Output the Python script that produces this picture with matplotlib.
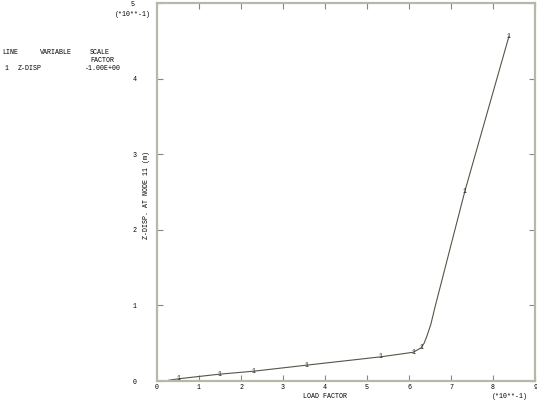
import matplotlib
matplotlib.use("Agg")
import matplotlib.pyplot as plt

# data (units of 1e-1)
load_factor = [0.28, 0.52, 1.48, 2.31, 3.57, 5.33, 6.10, 6.29, 6.36, 6.43, 6.52, 6.62, 7.33, 8.38]
z_disp = [0.01, 0.03, 0.09, 0.13, 0.21, 0.32, 0.38, 0.44, 0.50, 0.60, 0.75, 0.98, 2.51, 4.56]
marker_x = [0.52, 1.48, 2.31, 3.57, 5.33, 6.10, 6.29, 7.33, 8.38]
marker_y = [0.03, 0.09, 0.13, 0.21, 0.32, 0.38, 0.44, 2.51, 4.56]
x_ticks = [0, 1, 2, 3, 4, 5, 6, 7, 8, 9]
y_ticks = [0, 1, 2, 3, 4, 5]

FONT = "Liberation Mono"
FS = 4.8
AX_COL = "#b8b8a8"
LINE_COL = "#555548"

fig = plt.figure(figsize=(5.37, 4.00), dpi=100)
ax = fig.add_axes([157/537, 19/400, 378/537, 378/400])
ax.plot(load_factor, z_disp, color=LINE_COL, lw=0.8)
for mx, my in zip(marker_x, marker_y):
    ax.text(mx, my, "1", fontsize=FS, family=FONT, ha="center", va="center", color="#222222")

ax.set_xlim(0, 9)
ax.set_ylim(0, 5)
for s in ax.spines.values():
    s.set_color(AX_COL)
    s.set_linewidth(1.6)
ax.set_xticks(x_ticks)
ax.set_yticks(y_ticks)
ax.tick_params(direction="in", length=4, width=0.8, color="#888880",
               top=True, right=True, labelsize=FS)
ax.set_xticklabels([str(v) for v in x_ticks], family=FONT)
ax.set_yticklabels([str(v) if v < 5 else "" for v in y_ticks], family=FONT)
ax.tick_params(axis="y", pad=15)
ax.tick_params(axis="x", pad=2.5)

fig.text(133/537, 1 - 5/400, "5", fontsize=FS, family=FONT, ha="center", va="center")
fig.text(133/537, 1 - 14/400, "(*10**-1)", fontsize=FS, family=FONT, ha="center", va="center")
fig.text(510/537, 1 - 397/400, "(*10**-1)", fontsize=FS, family=FONT, ha="center", va="center")
fig.text(325/537, 1 - 397/400, "LOAD FACTOR", fontsize=FS, family=FONT, ha="center", va="center")
fig.text(146/537, 1 - 195/400, "Z-DISP. AT NODE 11 (m)", fontsize=FS, family=FONT,
         ha="center", va="center", rotation=90)

fig.text(2/537, 1 - 53/400, "LINE", fontsize=FS, family=FONT, ha="left", va="center")
fig.text(40/537, 1 - 53/400, "VARIABLE", fontsize=FS, family=FONT, ha="left", va="center")
fig.text(90/537, 1 - 53/400, "SCALE", fontsize=FS, family=FONT, ha="left", va="center")
fig.text(90/537, 1 - 60/400, "FACTOR", fontsize=FS, family=FONT, ha="left", va="center")
fig.text(5/537, 1 - 69/400, "1", fontsize=FS, family=FONT, ha="left", va="center")
fig.text(18/537, 1 - 69/400, "Z-DISP", fontsize=FS, family=FONT, ha="left", va="center")
fig.text(85/537, 1 - 69/400, "-1.00E+00", fontsize=FS, family=FONT, ha="left", va="center")

fig.savefig("out.png", dpi=100)
